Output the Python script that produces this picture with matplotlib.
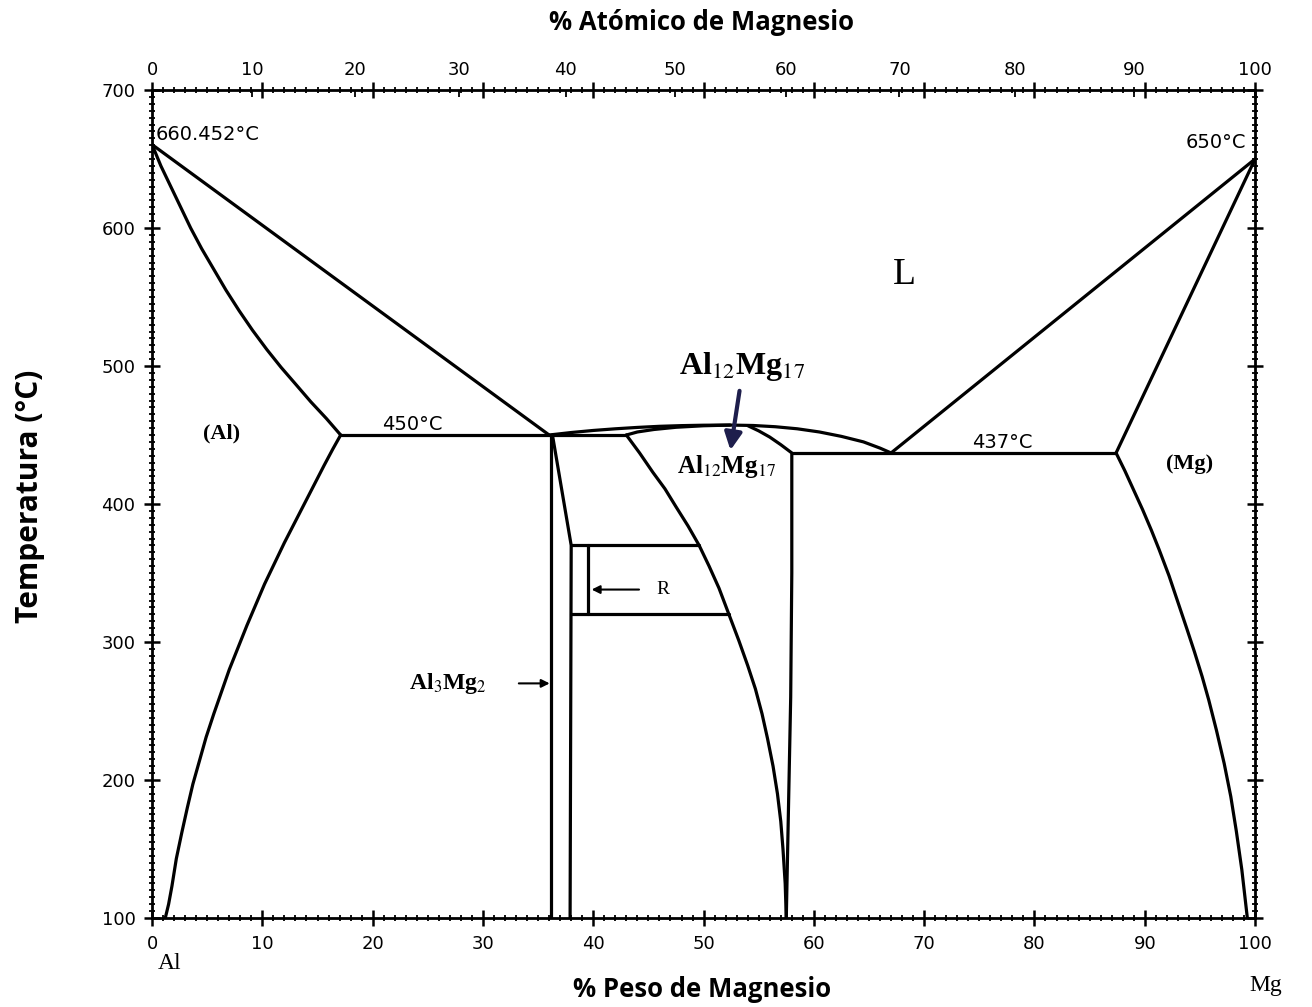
import numpy as np
import matplotlib.pyplot as plt
from matplotlib.ticker import MultipleLocator

plt.rcParams['mathtext.fontset'] = 'stix'
plt.rcParams['font.family'] = 'DejaVu Sans'

# Al-Mg phase boundaries: composition in wt% Mg, temperature in degC
liq_al_x = [0.0, 36.0]
liq_al_t = [660.452, 450.0]
sol_al_x = [0.0, 0.8, 1.7, 2.6, 3.5, 4.5, 5.6, 6.7, 7.9, 9.1, 10.4, 11.7,
            13.0, 14.4, 15.8, 17.1]
sol_al_t = [660.452, 645, 630, 615, 600, 585, 570, 555, 540, 526, 512, 499,
            487, 474, 462, 450]
solv_al_x = [17.1, 16.4, 15.6, 14.7, 13.8, 12.9, 12.0, 11.1, 10.2, 9.4, 8.6,
             7.8, 7.0, 6.3, 5.6, 4.9, 4.3, 3.7, 3.2, 2.7, 2.2, 1.8, 1.5, 1.2]
solv_al_t = [450, 440, 428, 414, 400, 386, 372, 357, 342, 327, 312,
             296, 280, 264, 248, 231, 214, 197, 180, 162, 143, 123, 110, 100]

eut1_x = [17.1, 43.0]
eut1_t = [450, 450]
eut2_x = [58.0, 87.4]
eut2_t = [437, 437]

dome_x = [36.0, 38.0, 40.0, 42.0, 44.0, 46.0, 48.0, 50.0, 52.4, 54.5, 56.5,
          58.5, 60.5, 62.5, 64.5, 66.0, 67.0]
dome_t = [450, 451.8, 453.3, 454.5, 455.5, 456.3, 456.8, 457.1, 457.2, 456.9,
          456.0, 454.5, 452.2, 449.0, 445.0, 440.5, 437.0]

b_left_x = [36.2, 36.2]
b_left_t = [450, 100]
b_right_x = [36.3, 38.0, 37.9]
b_right_t = [450, 370, 100]

r_top_x = [38.0, 49.6]
r_top_t = [370, 370]
r_bot_x = [38.0, 52.3]
r_bot_t = [320, 320]
r_side_x = [39.5, 39.5]
r_side_t = [370, 320]

g_left_x = [43.0, 44.2, 45.4, 46.5, 47.5, 48.6, 49.6, 50.5, 51.4, 52.3, 53.2,
            54.0, 54.7, 55.3, 55.8, 56.3, 56.7, 57.0, 57.2, 57.4, 57.5]
g_left_t = [450, 437, 423, 411, 398, 384, 370, 355, 339, 320, 301,
            283, 266, 248, 230, 210, 190, 170, 150, 125, 100]
g_top_x = [43.0, 44.0, 45.5, 47.5, 50.0, 52.4]
g_top_t = [450, 452.2, 454.0, 455.6, 456.7, 457.2]
g_right_x = [54.0, 55.0, 56.0, 57.0, 58.0, 58.0, 57.9, 57.7, 57.5]
g_right_t = [456.8, 453.0, 448.5, 443.0, 437, 350, 260, 180, 100]

liq_mg_x = [67.0, 100.0]
liq_mg_t = [437, 650]
sol_mg_x = [87.4, 100.0]
sol_mg_t = [437, 650]
solv_mg_x = [87.4, 88.2, 89.0, 89.8, 90.6, 91.3, 92.2, 93.0, 93.8, 94.5,
             95.2, 95.8, 96.5, 97.2, 97.8, 98.3, 98.8, 99.3]
solv_mg_t = [437, 424, 410, 396, 381, 367, 348, 329, 310, 293,
             275, 258, 236, 212, 188, 163, 135, 100]

curves = [
    (liq_al_x, liq_al_t), (sol_al_x, sol_al_t), (solv_al_x, solv_al_t),
    (eut1_x, eut1_t), (eut2_x, eut2_t), (dome_x, dome_t),
    (b_left_x, b_left_t), (b_right_x, b_right_t),
    (r_top_x, r_top_t), (r_bot_x, r_bot_t), (r_side_x, r_side_t),
    (g_left_x, g_left_t), (g_top_x, g_top_t), (g_right_x, g_right_t),
    (liq_mg_x, liq_mg_t), (sol_mg_x, sol_mg_t), (solv_mg_x, solv_mg_t),
]

M_AL = 26.982
M_MG = 24.305


def wt_to_at(w):
    w = np.asarray(w, dtype=float)
    a = w / M_MG
    b = (100 - w) / M_AL
    return 100 * a / (a + b)


def at_to_wt(at):
    at = np.asarray(at, dtype=float)
    a = at * M_MG
    b = (100 - at) * M_AL
    return 100 * a / (a + b)


fig = plt.figure(figsize=(13.12, 10.07), dpi=100)
ax = fig.add_axes([0.1159, 0.0884, 0.8407, 0.8222])

for xs, ts in curves:
    ax.plot(xs, ts, color='black', lw=2.3, solid_capstyle='round',
            solid_joinstyle='round')

ax.set_xlim(0, 100)
ax.set_ylim(100, 700)
ax.xaxis.set_major_locator(MultipleLocator(10))
ax.xaxis.set_minor_locator(MultipleLocator(1))
ax.yaxis.set_major_locator(MultipleLocator(100))
ax.yaxis.set_minor_locator(MultipleLocator(5))
ax.tick_params(which='major', direction='inout', length=12, width=1.8,
               labelsize=13, top=True, right=True, pad=6)
ax.tick_params(which='minor', direction='inout', length=4, width=1.3,
               top=True, right=True)
for sp in ax.spines.values():
    sp.set_linewidth(2)

# atomic percent scale along the top
top = ax.secondary_xaxis('top', functions=(wt_to_at, at_to_wt))
top.set_xticks(np.arange(0, 101, 10))
top.tick_params(direction='in', length=5, width=1.3, labelsize=13, pad=8)
top.spines['top'].set_visible(False)

# temperature notes
ax.text(0.3, 661, '660.452°C', fontsize=14, ha='left', va='bottom')
ax.text(99.2, 655, '650°C', fontsize=14, ha='right', va='bottom')
ax.text(23.6, 451, '450°C', fontsize=14, ha='center', va='bottom')
ax.text(77.1, 438, '437°C', fontsize=14, ha='center', va='bottom')

# phase names
serif = 'Liberation Serif'
ax.text(6.3, 451, '(Al)', fontsize=16, family=serif,
        fontweight='bold', ha='center', va='center')
ax.text(94.1, 429, '(Mg)', fontsize=16, family=serif,
        fontweight='bold', ha='center', va='center')
ax.text(68.2, 566, 'L', fontsize=27, family=serif,
        ha='center', va='center')
ax.text(52.1, 427, r'Al$_{12}$Mg$_{17}$', fontsize=18, family=serif,
        fontweight='bold', ha='center', va='center')
ax.text(46.3, 338, 'R', fontsize=14, family=serif,
        ha='center', va='center')
ax.text(26.8, 270, r'Al$_3$Mg$_2$', fontsize=17, family=serif,
        fontweight='bold', ha='center', va='center')

ax.annotate('', xy=(39.6, 338), xytext=(44.4, 338),
            arrowprops=dict(arrowstyle='-|>', color='black', lw=1.5,
                            mutation_scale=12))
ax.annotate('', xy=(36.3, 270), xytext=(33.0, 270),
            arrowprops=dict(arrowstyle='-|>', color='black', lw=1.5,
                            mutation_scale=12))

ax.text(53.5, 500, r'Al$_{12}$Mg$_{17}$', fontsize=23, family=serif,
        fontweight='bold', ha='center', va='center')
ax.annotate('', xy=(52.4, 437), xytext=(53.3, 484),
            arrowprops=dict(arrowstyle='-|>', color='#1e1e4c', lw=3,
                            mutation_scale=26))

ax.text(1.6, 67, 'Al', fontsize=17, family=serif,
        ha='center', va='center', clip_on=False)
ax.text(101.0, 51, 'Mg', fontsize=17, family=serif,
        ha='center', va='center', clip_on=False)

fig.text(0.535, 0.017, '% Peso de Magnesio', fontsize=18.5, family='Open Sans',
         fontweight='bold', ha='center', va='center')
fig.text(0.535, 0.978, '% Atómico de Magnesio', fontsize=18.5, family='Open Sans',
         fontweight='bold', ha='center', va='center')
fig.text(0.023, 0.507, 'Temperatura (°C)', fontsize=21.5, family='Open Sans',
         fontweight='bold', ha='center', va='center', rotation=90)

fig.savefig('out.png', dpi=100)
